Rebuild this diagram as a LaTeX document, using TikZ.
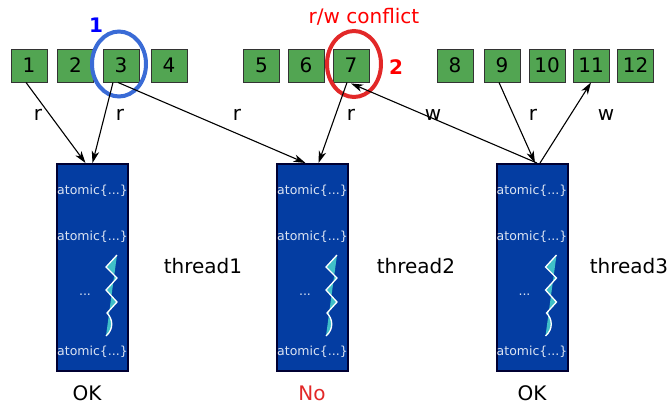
\documentclass[tikz,border=0pt]{standalone}
\usepackage{fontspec}
\setmainfont{DejaVu Sans}
\usetikzlibrary{arrows.meta,calc}
\definecolor{boxgreen}{RGB}{82,165,82}
\definecolor{thrblue}{RGB}{4,61,162}
\definecolor{thrborder}{RGB}{0,0,50}
\definecolor{teal2}{RGB}{64,192,200}
\definecolor{circblue}{RGB}{58,107,214}
\definecolor{circred}{RGB}{226,40,40}
\definecolor{lbl}{RGB}{220,228,242}
\tikzset{
  mem/.style={draw=black!80,fill=boxgreen,line width=0.9pt,minimum width=36pt,minimum height=33pt,inner sep=0pt,font=\fontsize{20}{20}\selectfont},
  thr/.style={draw=thrborder,fill=thrblue,line width=2pt,minimum width=71pt,minimum height=207pt,inner sep=0pt},
  atom/.style={text=lbl,font=\fontsize{12.5}{12.5}\selectfont,inner sep=0pt},
  lab/.style={font=\fontsize{20}{20}\selectfont,inner sep=0pt},
  arr/.style={line width=1.1pt,-{Stealth[length=12pt,width=7.5pt,inset=3.5pt]}},
  zig/.pic={
    \fill[teal2] (0,0) -- (-11,12) -- (0,23) -- (-11,35) -- (0,47) -- (-10,58) .. controls (-4,64) and (-3,74) .. (-11,81) -- cycle;
    \draw[white,line width=1.3pt] (0,0) -- (-11,12) -- (0,23) -- (-11,35) -- (0,47) -- (-10,58) .. controls (-4,64) and (-3,74) .. (-11,81);
  }
}
\begin{document}
\begin{tikzpicture}[x=1pt,y=-1pt]
\useasboundingbox (0,0) rectangle (671,405);
% memory boxes
\node[mem] (b1) at (29,65.5) {1};
\node[mem] (b2) at (75.5,65.5) {2};
\node[mem] (b3) at (121,65.5) {3};
\node[mem] (b4) at (169,65.5) {4};
\node[mem] (b5) at (261.5,65.5) {5};
\node[mem] (b6) at (306,65.5) {6};
\node[mem] (b7) at (351,65.5) {7};
\node[mem] (b8) at (455,65.5) {8};
\node[mem] (b9) at (502,65.5) {9};
\node[mem] (b10) at (547,65.5) {10};
\node[mem] (b11) at (591,65.5) {11};
\node[mem] (b12) at (635.5,65.5) {12};
% threads
\foreach \n/\x in {t1/92.5,t2/312.5,t3/532}{
  \node[thr] (\n) at (\x,267.5) {};
  \node[atom] at (\x,191) {atomic\{...\}};
  \node[atom] at (\x,237) {atomic\{...\}};
  \node[atom] at (\x,352) {atomic\{...\}};
  \node[atom] at (\x-7.5,295) {...};
  \pic at (\x+24.5,255) {zig};
}
\node[lab] (l1) at (203,266) {thread1};
\node[lab] (l2) at (416,266) {thread2};
\node[lab] (l3) at (629,266) {thread3};
\node[lab] (ok1) at (87,393) {OK};
\node[lab,text=circred] (no2) at (312,393) {No};
\node[lab] (ok3) at (532,393) {OK};
% circles
\draw[circblue,line width=4pt] (b3.center) ++(-2,-1.5) ellipse [x radius=27pt,y radius=32.5pt];
\draw[circred,line width=4pt] (b7.center) ++(3,-1.5) ellipse [x radius=27pt,y radius=33pt];
\node[lab,font=\fontsize{20}{20}\selectfont\bfseries,text=blue] (n1) at (96,25) {1};
\node[lab,font=\fontsize{20}{20}\selectfont\bfseries,text=red] (n2) at (396,67) {2};
\node[lab,text=red] (conf) at (364,17) {r/w conflict};
% arrows
\draw[arr] ($(b1.south)+(-3,0)$) -- ($(t1.north)+(-7,0)$);
\draw[arr] ($(b3.south)+(-8,0)$) -- ($(t1.north)+(0,0)$);
\draw[arr] ($(b3.south)+(-3,0)$) -- ($(t2.north)+(-7,0)$);
\draw[arr] ($(b7.south)+(-4,0)$) -- ($(t2.north)+(6,0)$);
\draw[arr] ($(t3.north)+(5,0)$) -- ($(b7.south)+(0,1)$);
\draw[arr] ($(b9.south)+(-3,0)$) -- ($(t3.north)+(3,0)$);
\draw[arr] ($(t3.north)+(8,0)$) -- (b11.south);
% edge labels
\node[lab] (e1) at (38,115) {r};
\node[lab] (e2) at (120,115) {r};
\node[lab] (e3) at (237,115) {r};
\node[lab] (e4) at (351,115) {r};
\node[lab] (e5) at (433,115) {w};
\node[lab] (e6) at (533,115) {r};
\node[lab] (e7) at (606,115) {w};
\end{tikzpicture}
\end{document}
